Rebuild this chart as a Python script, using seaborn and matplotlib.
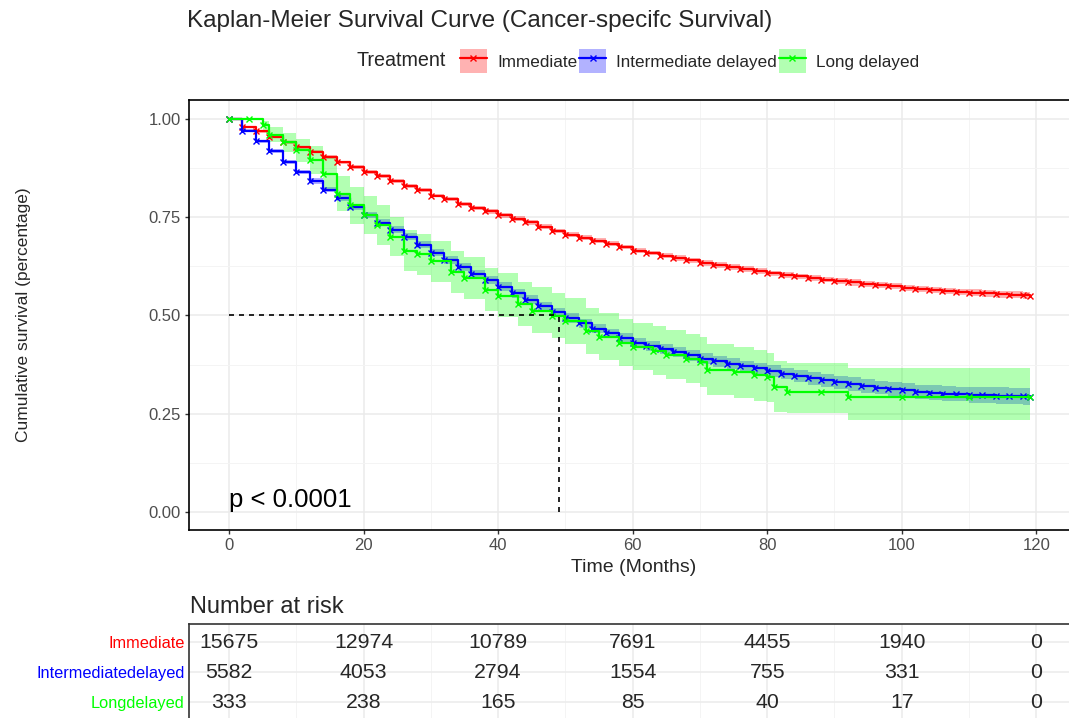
import numpy as np
import pandas as pd
import matplotlib
matplotlib.use('Agg')
import matplotlib.pyplot as plt
import seaborn as sns
from matplotlib.patches import Patch
from matplotlib.lines import Line2D

## 데이터
groups = ['Immediate', 'Intermediate delayed', 'Long delayed']
risk_labels = ['Immediate', 'Intermediatedelayed', 'Longdelayed']
colors = ['#FF0000', '#0000FF', '#00FF00']

# Immediate / Intermediate delayed 곡선 (같은 시간축)
km_time = [0, 2, 4, 6, 8, 10, 12, 14, 16, 18, 20, 22, 24, 26, 28, 30, 32, 34, 36, 38,
           40, 42, 44, 46, 48, 50, 52, 54, 56, 58, 60, 62, 64, 66, 68, 70, 72, 74, 76, 78,
           80, 82, 84, 86, 88, 90, 92, 94, 96, 98, 100, 102, 104, 106, 108, 110, 112, 114, 116, 118,
           119]
surv_immediate = [1.0, .98, .968, .955, .94, .928, .916, .903, .889, .877,
                  .865, .854, .842, .83, .818, .805, .795, .784, .774, .765,
                  .755, .746, .737, .726, .715, .705, .698, .69, .682, .674,
                  .665, .659, .652, .646, .64, .633, .628, .623, .618, .613,
                  .607, .603, .599, .595, .591, .587, .584, .58, .577, .574,
                  .57, .567, .565, .562, .56, .558, .556, .554, .552, .551,
                  .55]
ci_immediate = [0, .002, .003, .003, .004, .004, .004, .004, .004, .005,
                .005, .005, .005, .005, .005, .005, .005, .005, .005, .006,
                .006, .006, .006, .006, .006, .006, .006, .006, .006, .006,
                .006, .006, .007, .007, .007, .007, .007, .007, .007, .007,
                .007, .007, .007, .007, .007, .008, .008, .008, .008, .008,
                .008, .008, .008, .008, .008, .009, .009, .009, .009, .009,
                .009]
surv_intermediate = [1.0, .97, .943, .918, .89, .865, .842, .82, .798, .775,
                     .755, .736, .718, .70, .68, .66, .641, .623, .606, .59,
                     .573, .556, .54, .524, .508, .493, .48, .466, .454, .442,
                     .43, .422, .414, .406, .398, .39, .383, .377, .371, .365,
                     .358, .352, .346, .34, .335, .33, .325, .32, .316, .312,
                     .309, .306, .303, .301, .30, .298, .297, .296, .295, .294,
                     .293]
ci_intermediate = [0, .003, .004, .005, .006, .006, .007, .007, .008, .008,
                   .008, .009, .009, .009, .009, .01, .01, .01, .01, .01,
                   .011, .011, .011, .011, .011, .012, .012, .012, .012, .012,
                   .013, .013, .013, .013, .013, .014, .014, .014, .014, .015,
                   .015, .015, .015, .016, .016, .016, .017, .017, .017, .018,
                   .018, .018, .019, .019, .019, .02, .02, .021, .021, .022,
                   .022]

# Long delayed 곡선
long_time = [0, 3, 5, 6, 8, 10, 12, 14, 16, 18, 20, 22, 24, 26, 28, 30, 33, 35, 38, 40,
             43, 45, 48, 50, 53, 55, 58, 60, 63, 65, 68, 70, 71, 75, 78, 80, 81, 83, 88, 92,
             100, 110, 119]
surv_long = [1.0, 1.0, .985, .96, .94, .92, .895, .86, .81, .78,
             .755, .73, .70, .665, .655, .638, .61, .595, .565, .55,
             .528, .512, .499, .485, .46, .445, .43, .42, .41, .40,
             .39, .382, .362, .355, .348, .344, .318, .305, .305, .293,
             .293, .293, .293]
lower_long = [1.0, 1.0, .97, .94, .915, .89, .86, .82, .765, .733,
              .706, .68, .65, .614, .603, .586, .557, .541, .51, .495,
              .472, .456, .442, .427, .401, .386, .37, .36, .349, .339,
              .328, .319, .298, .291, .283, .279, .255, .252, .252, .234,
              .234, .234, .234]
upper_long = [1.0, 1.0, .995, .98, .965, .95, .93, .90, .855, .827,
              .804, .78, .75, .716, .707, .69, .663, .649, .62, .608,
              .586, .571, .558, .545, .52, .505, .491, .481, .472, .462,
              .453, .446, .427, .42, .412, .405, .385, .379, .379, .366,
              .366, .366, .366]

median_time = 49
p_text = 'p < 0.0001'

# 위험 표
risk_times = [0, 20, 40, 60, 80, 100, 120]
risk_immediate = [15675, 12974, 10789, 7691, 4455, 1940, 0]
risk_intermediate = [5582, 4053, 2794, 1554, 755, 331, 0]
risk_long = [333, 238, 165, 85, 40, 17, 0]

## 데이터프레임
df_imm = pd.DataFrame({'time': km_time, 'surv': surv_immediate, 'ci': ci_immediate})
df_imm['lo'] = df_imm['surv'] - df_imm['ci']
df_imm['hi'] = (df_imm['surv'] + df_imm['ci']).clip(upper=1)
df_int = pd.DataFrame({'time': km_time, 'surv': surv_intermediate, 'ci': ci_intermediate})
df_int['lo'] = df_int['surv'] - df_int['ci']
df_int['hi'] = (df_int['surv'] + df_int['ci']).clip(upper=1)
df_long = pd.DataFrame({'time': long_time, 'surv': surv_long, 'lo': lower_long, 'hi': upper_long})
curves = [df_imm, df_int, df_long]

df_risk = pd.DataFrame({'time': risk_times * 3,
                        'n': risk_immediate + risk_intermediate + risk_long,
                        'row': [3] * 7 + [2] * 7 + [1] * 7})

## 그림
sns.set_theme(style='white')
plt.rcParams['font.family'] = ['Liberation Sans', 'DejaVu Sans']

W, H = 1069, 718
fig = plt.figure(figsize=(W / 100, H / 100), dpi=100)
ax = fig.add_axes([189 / W, 1 - 530 / H, 891 / W, 430 / H])

x_lim = (-5.95, 126.5)

for d, c in zip(curves, colors):
    ax.fill_between(d['time'], d['lo'], d['hi'], step='post', color=c, alpha=0.3, lw=0)

for d, c in zip(curves, colors):
    sns.lineplot(data=d, x='time', y='surv', color=c, lw=1.6, drawstyle='steps-post',
                 marker='x', markersize=5, markeredgewidth=1.0, markeredgecolor=c,
                 estimator=None, errorbar=None, ax=ax)

# 중앙 생존 시간
ax.plot([0, median_time], [0.5, 0.5], color='black', lw=1.2, ls=(0, (3, 3)))
ax.plot([median_time, median_time], [0, 0.5], color='black', lw=1.2, ls=(0, (3, 3)))

ax.text(0, 0.012, p_text, fontsize=18.5, ha='left', va='baseline', color='black')

ax.set_xlim(*x_lim)
ax.set_ylim(-0.046, 1.048)
ax.set_xticks(range(0, 121, 20))
ax.set_xticks(range(10, 121, 20), minor=True)
ax.set_yticks([0, 0.25, 0.5, 0.75, 1.0])
ax.set_yticklabels(['0.00', '0.25', '0.50', '0.75', '1.00'])
ax.set_yticks([0.125, 0.375, 0.625, 0.875], minor=True)
ax.grid(which='major', color='#EBEBEB', lw=1.1)
ax.grid(which='minor', color='#F4F4F4', lw=0.7)
ax.set_axisbelow(True)
ax.tick_params(which='major', direction='out', length=3, width=1, color='#333333',
               labelsize=12, labelcolor='#4D4D4D', pad=3, bottom=True, left=True)
ax.tick_params(which='minor', length=0)
ax.set_xlabel('')
ax.set_ylabel('')
for s in ax.spines.values():
    s.set_color('black')
    s.set_linewidth(1.2)

fig.text(634 / W, 1 - 567 / H, 'Time (Months)', fontsize=14, ha='center', va='center')
fig.text(24 / W, 1 - 315 / H, 'Cumulative survival (percentage)', fontsize=12.5,
         rotation=90, ha='center', va='center')

# 제목과 범례
fig.text(187 / W, 1 - 27 / H, 'Kaplan-Meier Survival Curve (Cancer-specifc Survival)',
         fontsize=17.5, ha='left', va='baseline')
fig.text(357 / W, 1 - 61 / H, 'Treatment', fontsize=14.2, ha='left', va='center')
handles = [(Patch(facecolor=c, alpha=0.3, edgecolor='none'),
            Line2D([], [], color=c, lw=1.6, marker='x', markersize=5, markeredgewidth=1.0))
           for c in colors]
fig.legend(handles, groups, ncol=3, loc='center left', bbox_to_anchor=(460 / W, 1 - 61 / H),
           frameon=False, fontsize=12.3, borderpad=0, borderaxespad=0,
           handlelength=1.58, handleheight=1.75, handletextpad=0.58, columnspacing=0.12)

# 위험 표
rax = fig.add_axes([189 / W, -2 / H, 891 / W, 96 / H])
for _, r in df_risk.iterrows():
    rax.text(r['time'], r['row'], str(int(r['n'])), fontsize=15.3, ha='center', va='center')
rax.set_xlim(*x_lim)
rax.set_ylim(0.4, 3.6)
rax.set_xticks(range(0, 121, 20))
rax.set_xticks(range(10, 121, 20), minor=True)
rax.set_xticklabels([])
rax.set_yticks([3, 2, 1])
rax.set_yticklabels(risk_labels)
for lbl, c in zip(rax.get_yticklabels(), colors):
    lbl.set_color(c)
rax.tick_params(which='both', length=0, labelsize=11.8, pad=3)
rax.grid(which='major', color='#EBEBEB', lw=1.1)
rax.grid(which='minor', axis='x', color='#F4F4F4', lw=0.7)
rax.set_axisbelow(True)
for k in ['bottom', 'right']:
    rax.spines[k].set_visible(False)
for k in ['top', 'left']:
    rax.spines[k].set_color('#333333')
    rax.spines[k].set_linewidth(1.2)

fig.text(190 / W, 1 - 613 / H, 'Number at risk', fontsize=17, ha='left', va='baseline')

fig.savefig('out.png', dpi=100)
